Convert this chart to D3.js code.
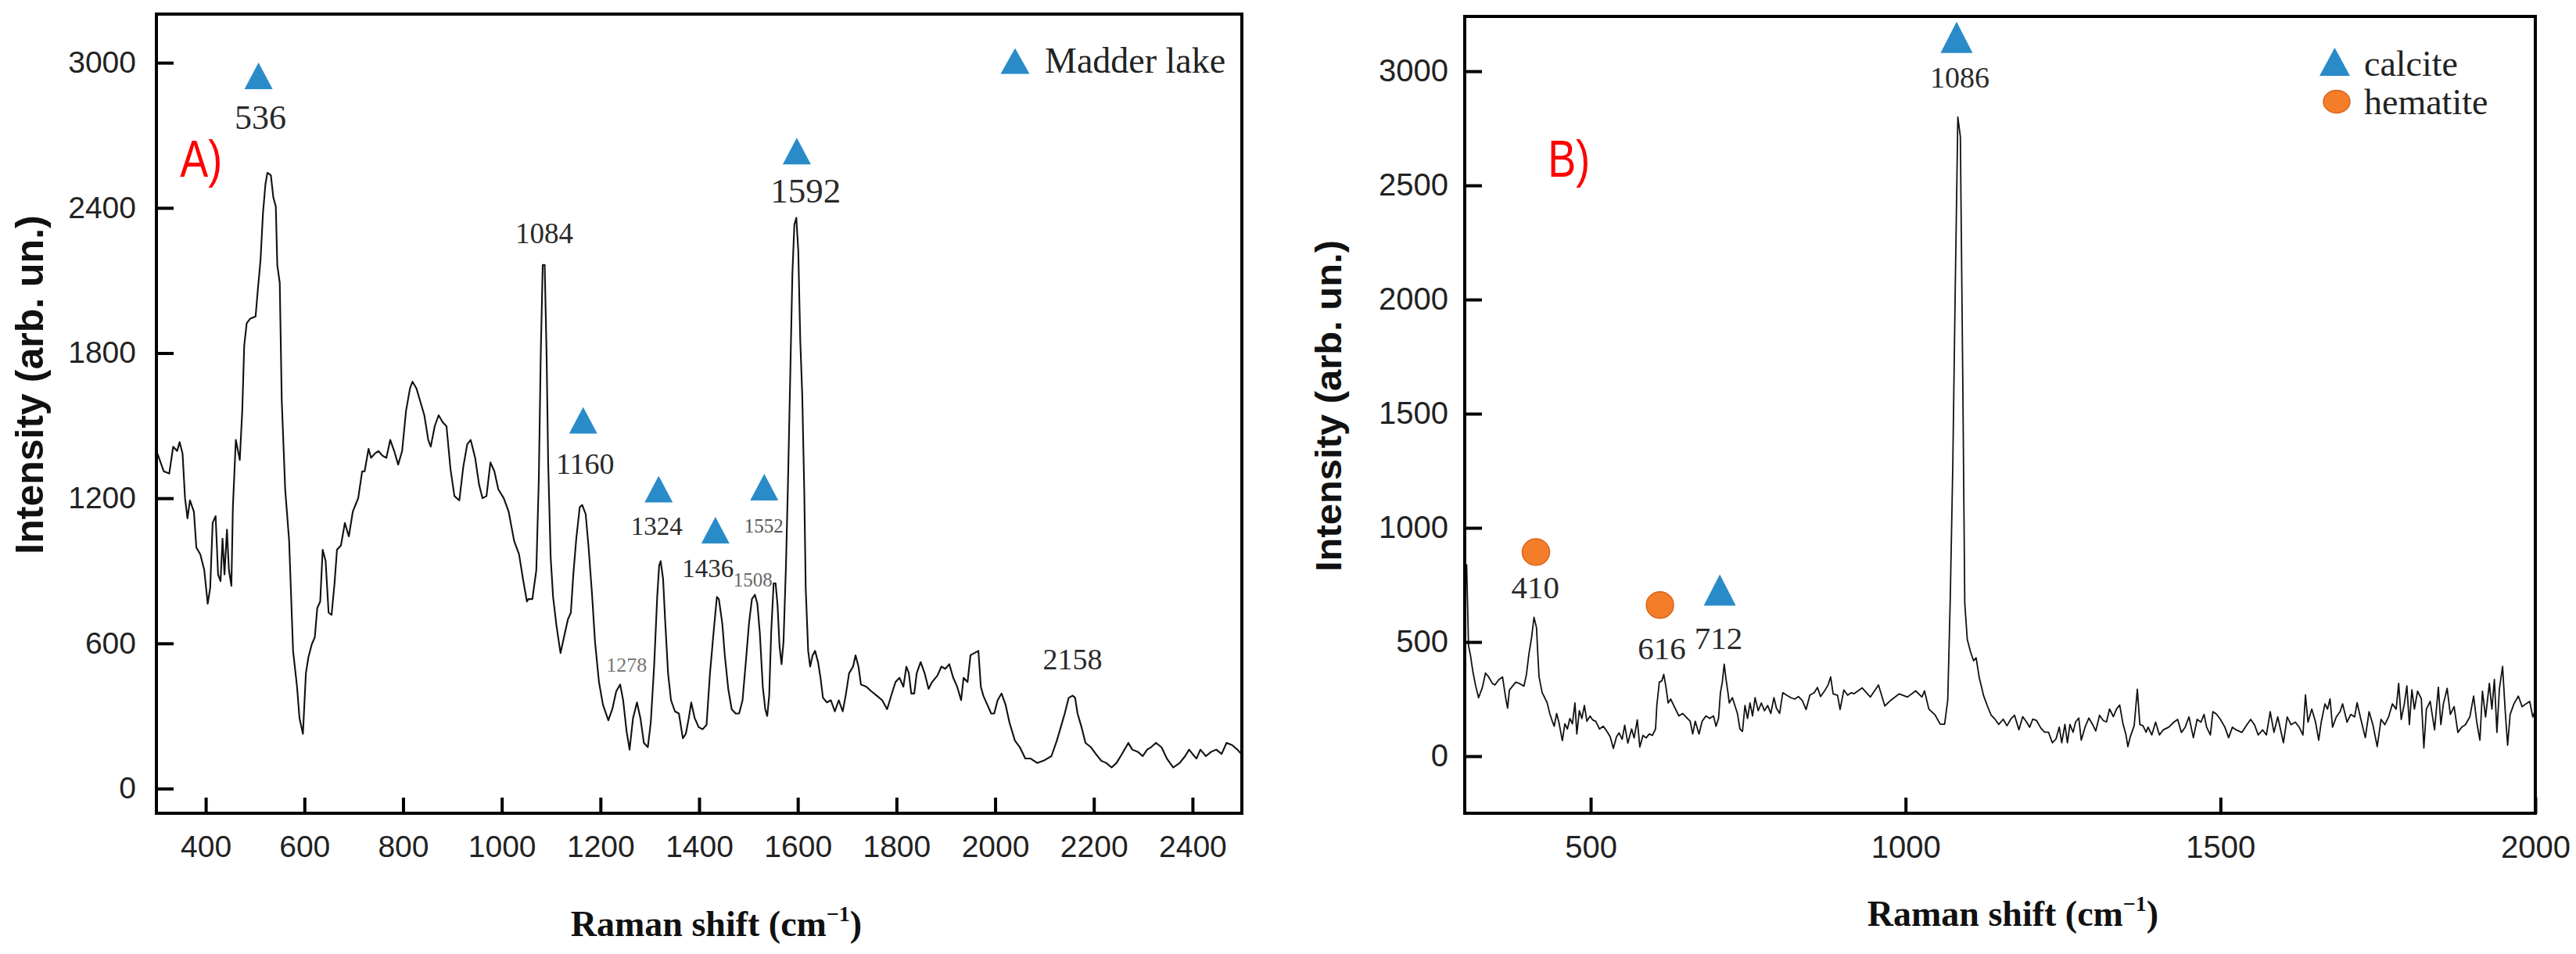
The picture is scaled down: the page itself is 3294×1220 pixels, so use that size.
<!DOCTYPE html>
<html><head><meta charset="utf-8">
<script src="https://cdn.jsdelivr.net/npm/d3@7"></script>
<style>html,body{margin:0;padding:0;background:#fff;} svg{display:block}</style>
</head><body>
<svg id="chart" width="3294" height="1220"></svg>
<script>
// ---------------- Panel A data (Madder lake spectrum) ----------------
const shiftA = [302,315,326,334,342,347,353,358,363,368,376,381,389,397,404,409,414,420,425,430,434,438,443,447,452,455,461,469,474,478,483,490,501,506,511,516,521,525,532,537,542,545,550,554,561,569,577,585,590,597,603,608,615,621,626,632,637,643,649,655,661,666,674,682,690,698,709,717,722,730,735,743,750,758,766,774,782,790,798,806,814,819,827,835,843,851,856,864,872,880,888,896,904,914,922,930,937,946,954,961,969,977,985,993,1004,1014,1025,1035,1043,1051,
1054,1062,1070,1075,1079,1083,1087,1091,1094,1099,1104,1111,1119,1126,1134,1140,1145,1151,1158,1163,1170,1176,1183,1189,1197,1205,1216,1224,1232,1240,1246,1253,1259,1266,1274,1281,1288,1296,1302,1309,1315,1319,1322,1327,1331,1337,1343,1351,1359,1367,1373,1379,1384,1391,1399,1407,1415,1422,1430,1436,1440,1447,1452,1459,1466,1474,1481,1488,1495,1501,1507,1513,1518,1523,1529,1534,1538,1542,1546,1551,1555,1559,1563,1567,1571,1576,1580,1585,1589,1593,1597,1601,1605,1609,1613,1616,1621,1625,1630,1635,1641,1646,1651,1659,1667,1675,1683,1691,1697,1704,1712,1717,1723,1728,1739,1749,1760,1771,1781,1792,
1798,1806,1814,1820,1825,1830,1836,1841,1849,1857,1865,1872,1883,1891,1899,1907,1915,1923,1931,1936,1944,1950,1958,1966,1971,1976,1984,1992,1998,2005,2013,2021,2029,2040,2050,2061,2072,2085,2098,2114,2125,2133,2141,2149,2157,2162,2167,2175,2183,2194,2204,2215,2225,2236,2246,2257,2270,2278,2289,2299,2308,2316,2326,2337,2348,2361,2374,2385,2393,2400,2408,2416,2427,2438,2448,2459,2469,2480,2491,2499];
const intensityA = [1385,1311,1302,1413,1395,1432,1385,1200,1117,1191,1144,996,968,903,764,829,1098,1126,885,857,1033,885,1070,903,838,1163,1441,1358,1562,1831,1923,1942,1951,2072,2183,2378,2498,2545,2535,2443,2406,2164,2090,1608,1237,1024,569,421,291,226,477,542,597,625,746,773,987,940,727,718,848,987,1005,1098,1042,1144,1200,1311,1311,1404,1367,1385,1395,1376,1367,1441,1395,1339,1395,1562,1654,1682,1654,1599,1543,1441,1413,1497,1543,1515,1497,1321,1209,1191,1330,1423,1441,1367,1256,1200,1209,1348,1311,1237,1200,1144,1024,968,866,773,
783,783,903,1274,1794,2164,2164,1775,1348,959,792,671,560,625,699,727,885,1033,1163,1172,1135,996,801,606,440,347,282,328,402,430,365,236,161,291,356,291,189,171,273,514,792,922,940,866,699,477,365,319,310,208,226,291,356,291,254,245,263,477,662,792,783,681,551,412,328,310,310,365,532,681,783,801,764,644,421,328,300,384,644,848,848,755,588,514,606,922,1256,1738,2127,2331,2359,2220,1849,1627,1237,829,569,504,551,569,523,458,375,356,365,319,365,319,384,477,504,551,504,430,421,402,384,365,328,402,
440,458,421,504,477,393,393,477,523,477,412,440,467,504,495,514,458,421,365,458,440,551,560,569,421,384,347,310,310,365,393,347,273,198,171,124,124,106,115,134,198,254,310,375,384,375,310,254,189,171,143,115,106,87,106,143,189,161,152,134,161,171,189,171,124,87,106,134,161,143,124,161,134,152,161,143,189,180,161,143];

const xTicksA = [400,600,800,1000,1200,1400,1600,1800,2000,2200,2400];
const yTicksA = [0,600,1200,1800,2400,3000];

// Panel A annotations (data units)
const labelTextA = ["536","1084","1160","1278","1324","1436","1508","1552","1592","2158"];
const labelShiftA = [511,1086,1169,1253,1314,1418,1509,1531,1616,2157];
const labelIntA = [2726,2254,1301,483,1048,874,835,1058,2422,493];
const madderShift = [507,1165,1318,1433,1532,1598];
const madderInt = [2946,1522,1238,1068,1246,2635];

// ---------------- Panel B data (calcite / hematite spectrum) ----------------
const shiftB = [303,306,309,313,317,322,328,333,338,344,348,354,360,365,368,371,376,381,387,394,398,402,406,410,414,416,418,423,427,431,435,439,442,446,450,455,459,463,467,471,475,478,482,486,490,494,499,503,508,514,520,526,531,536,541,545,550,554,559,565,569,574,578,583,588,593,598,603,605,609,613,616,619,623,627,634,640,646,652,658,662,666,672,677,683,689,695,699,703,706,709,712,715,718,720,725,729,733,737,741,745,749,753,757,761,766,771,776,781,786,791,795,800,805,811,818,824,830,836,842,848,855,860,865,871,877,881,885,892,896,902,908,914,918,931,944,957,967,977,990,1003,1016,1026,
1030,1037,1047,1055,1062,1067,1071,1075,1079,1083,1087,1091,1094,1098,1103,1108,1112,
1117,1124,1130,1136,1142,1148,1155,1161,1167,1173,1180,1186,1192,1197,1202,1208,1215,1221,1227,1233,1239,1244,1248,1253,1257,1261,1266,1270,1275,1279,1285,1291,1297,1302,1308,1314,1319,1324,1330,1335,1340,1345,1350,1353,1357,1363,1368,1372,1377,1382,
1385,1391,1397,1403,1409,1418,1426,1432,1438,1444,1450,1457,1463,1469,1474,1478,1484,1488,1494,1500,1507,1513,1519,1525,1534,1542,1548,1554,1560,1567,1573,1579,1585,1591,1600,1606,1612,1619,1625,1631,1635,1639,1645,1651,1656,1660,1666,1670,1674,1678,1684,1690,1694,1701,1707,1713,1717,1723,1730,1736,1742,1749,1755,1761,1767,1773,1779,1783,1787,1792,1796,1800,1804,1808,1813,1819,1823,1827,1833,1840,1846,1850,1854,1860,1865,1871,1877,1883,1889,1896,1902,1907,1912,1916,1921,1927,1931,1935,1939,1943,1948,1952,1956,1960,1966,1973,1979,1985,1991,1996,1999];
const intensityB = [841,484,443,369,312,256,301,364,347,318,312,335,347,256,210,290,307,324,318,307,358,449,517,608,562,449,347,278,256,233,187,153,131,187,142,68,142,119,165,142,233,97,199,165,222,153,176,159,153,119,131,108,85,34,85,102,74,136,57,119,80,159,40,91,80,97,91,119,222,324,330,358,312,233,250,210,176,187,170,153,97,153,97,153,176,165,176,131,165,278,324,403,335,278,233,256,222,187,119,108,222,165,233,176,256,199,233,199,222,187,256,210,187,278,267,256,250,261,244,204,267,278,301,261,284,312,347,273,267,204,290,267,278,273,299,259,312,220,246,273,259,286,259,
286,206,180,140,140,246,696,1278,2072,2799,2714,1596,669,511,458,418,431,
344,264,219,179,162,139,162,133,162,179,116,173,150,127,162,156,122,105,105,59,76,127,59,139,59,139,105,150,167,70,127,167,139,110,179,156,150,207,173,207,224,145,93,42,87,133,293,139,133,105,
127,93,149,93,115,127,149,161,104,127,172,81,161,149,183,127,93,195,183,161,127,81,127,115,104,138,161,138,93,115,93,195,104,172,59,172,138,149,127,93,268,149,206,149,70,149,229,206,251,127,172,195,229,149,183,172,234,161,81,195,138,42,161,138,172,229,206,319,161,229,308,138,291,206,285,251,36,206,240,115,302,138,229,297,183,217,104,127,138,172,263,149,70,285,172,319,206,336,104,297,393,206,48,183,229,263,217,229,240,172,195];

const xTicksB = [500,1000,1500,2000];
const yTicksB = [0,500,1000,1500,2000,2500,3000];

// Panel B annotations (data units)
const labelTextB = ["410","616","712","1086"];
const labelShiftB = [412,613,703,1086];
const labelIntB = [693,426,470,2927];
const hematiteShift = [413,610];
const hematiteInt = [894,662];
const calciteShift = [705,1081];
const calciteInt = [728,3148];

// ---------------- styles ----------------
const BLUE = "#2a8bc9", ORANGE = "#f47d2a", ORANGE_EDGE = "#d8661c";
const SANS = "'Liberation Sans', Arial, sans-serif";
const SERIF = "'Liberation Serif', 'Times New Roman', serif";
const labelSizeA = {"536":44,"1084":37,"1160":38,"1278":26,"1324":33,"1436":33,"1508":25,"1552":25,"1592":45,"2158":38};
const labelColorA = {"1278":"#777","1508":"#666","1552":"#555"};

const svg = d3.select("#chart");

function tri(cx, cy, w, h) {
  return `M${cx - w/2},${cy + h/2}L${cx + w/2},${cy + h/2}L${cx},${cy - h/2}Z`;
}

function drawPanel(cfg) {
  const {left, right, top, bottom} = cfg.box;
  const x = d3.scaleLinear().domain(cfg.xDomain).range([left, right]);
  const y = d3.scaleLinear().domain(cfg.yDomain).range([bottom, top]);
  const g = svg.append("g");
  const clipId = "clip" + cfg.id;
  svg.append("defs").append("clipPath").attr("id", clipId)
    .append("rect").attr("x", left).attr("y", top).attr("width", right - left).attr("height", bottom - top);

  const pts = cfg.xs.map((v, i) => [v, cfg.ys[i]]);
  g.append("path").datum(pts)
    .attr("d", d3.line().x(d => x(d[0])).y(d => y(d[1])))
    .attr("fill", "none").attr("stroke", "#111").attr("stroke-width", cfg.lw)
    .attr("stroke-linejoin", "round").attr("clip-path", `url(#${clipId})`);

  const xa = g.append("g").attr("transform", `translate(0,${bottom})`)
    .call(d3.axisBottom(x).tickValues(cfg.xTicks).tickSizeInner(-20).tickSizeOuter(0)
      .tickPadding(cfg.xPad).tickFormat(d3.format("d")));
  const ya = g.append("g").attr("transform", `translate(${left},0)`)
    .call(d3.axisLeft(y).tickValues(cfg.yTicks).tickSizeInner(-22).tickSizeOuter(0)
      .tickPadding(cfg.yPad).tickFormat(d3.format("d")));
  [xa, ya].forEach(a => {
    a.select(".domain").remove();
    a.attr("font-family", SANS).attr("font-size", cfg.tickFont);
    a.selectAll("line").attr("stroke", "#000").attr("stroke-width", 4);
    a.selectAll("text").attr("fill", "#222");
  });

  g.append("rect").attr("x", left).attr("y", top).attr("width", right - left).attr("height", bottom - top)
    .attr("fill", "none").attr("stroke", "#000").attr("stroke-width", 4);

  // y title
  const yt = svg.append("text")
    .attr("transform", `translate(${cfg.yTitle.x},${cfg.yTitle.y}) rotate(-90)`)
    .attr("text-anchor", "middle").attr("font-family", SANS).attr("font-weight", "bold")
    .attr("font-size", cfg.yTitle.size).attr("fill", "#111").text("Intensity (arb. un.)");
  if (cfg.yTitle.len) yt.attr("textLength", cfg.yTitle.len).attr("lengthAdjust", "spacingAndGlyphs");

  // x title
  const xt = svg.append("text").attr("x", cfg.xTitle.x).attr("y", cfg.xTitle.y)
    .attr("text-anchor", "middle").attr("font-family", SERIF).attr("font-weight", "bold")
    .attr("font-size", 46).attr("fill", "#111");
  xt.append("tspan").text("Raman shift (cm");
  xt.append("tspan").attr("font-size", 28).attr("dy", -19).text("\u22121");
  xt.append("tspan").attr("dy", 19).text(")");

  // panel letter
  svg.append("text").attr("x", x(cfg.letter.sx)).attr("y", y(cfg.letter.iy))
    .attr("font-family", SANS).attr("font-size", 66).attr("fill", "#ff0000")
    .attr("textLength", 54).attr("lengthAdjust", "spacingAndGlyphs").text(cfg.letter.t);
  return {x, y, g};
}

// ---------------- Panel A ----------------
const A = drawPanel({
  id: "A", box: {left: 200, right: 1588, top: 18, bottom: 1040},
  xDomain: [300, 2500], yDomain: [-102, 3201],
  xs: shiftA, ys: intensityA, lw: 2.1,
  xTicks: xTicksA, yTicks: yTicksA, xPad: 28, yPad: 26, tickFont: 39,
  yTitle: {x: 55, y: 492, size: 50},
  xTitle: {x: 916, y: 1197},
  letter: {t: "A)", sx: 348, iy: 2528}
});
madderShift.forEach((s, i) => {
  A.g.append("path").attr("d", tri(A.x(s), A.y(madderInt[i]), 36, 34)).attr("fill", BLUE);
});
labelTextA.forEach((t, i) => {
  A.g.append("text").attr("x", A.x(labelShiftA[i])).attr("y", A.y(labelIntA[i]))
    .attr("text-anchor", "middle").attr("font-family", SERIF)
    .attr("font-size", labelSizeA[t]).attr("fill", labelColorA[t] || "#2a2a2a").text(t);
});
// legend A
A.g.append("path").attr("d", tri(1588 - 290, 18 + 60, 37, 33)).attr("fill", BLUE);
A.g.append("text").attr("x", 1588 - 252).attr("y", 18 + 75).attr("font-family", SERIF)
  .attr("font-size", 46).attr("fill", "#222").text("Madder lake");

// ---------------- Panel B ----------------
const B = drawPanel({
  id: "B", box: {left: 1873, right: 3242, top: 21, bottom: 1040},
  xDomain: [300, 2000], yDomain: [-250, 3240],
  xs: shiftB, ys: intensityB, lw: 1.8,
  xTicks: xTicksB, yTicks: yTicksB, xPad: 29, yPad: 21, tickFont: 40,
  yTitle: {x: 1715, y: 519, size: 46, len: 424},
  xTitle: {x: 2574, y: 1184},
  letter: {t: "B)", sx: 432, iy: 2537}
});
hematiteShift.forEach((s, i) => {
  B.g.append("ellipse").attr("cx", B.x(s)).attr("cy", B.y(hematiteInt[i])).attr("rx", 17.5).attr("ry", 17)
    .attr("fill", ORANGE).attr("stroke", ORANGE_EDGE).attr("stroke-width", 1.5);
});
calciteShift.forEach((s, i) => {
  B.g.append("path").attr("d", tri(B.x(s), B.y(calciteInt[i]), 41, 40)).attr("fill", BLUE);
});
labelTextB.forEach((t, i) => {
  B.g.append("text").attr("x", B.x(labelShiftB[i])).attr("y", B.y(labelIntB[i]))
    .attr("text-anchor", "middle").attr("font-family", SERIF)
    .attr("font-size", t === "1086" ? 38 : 41).attr("fill", "#2a2a2a").text(t);
});
// legend B
B.g.append("path").attr("d", tri(3242 - 256.5, 21 + 58, 39, 36)).attr("fill", BLUE);
B.g.append("ellipse").attr("cx", 3242 - 254).attr("cy", 21 + 109).attr("rx", 17).attr("ry", 14.5)
  .attr("fill", ORANGE).attr("stroke", ORANGE_EDGE).attr("stroke-width", 1.5);
B.g.append("text").attr("x", 3242 - 219).attr("y", 21 + 76).attr("font-family", SERIF)
  .attr("font-size", 46).attr("fill", "#222").text("calcite");
B.g.append("text").attr("x", 3242 - 219).attr("y", 21 + 125).attr("font-family", SERIF)
  .attr("font-size", 46).attr("fill", "#222").text("hematite");
</script>
</body></html>
